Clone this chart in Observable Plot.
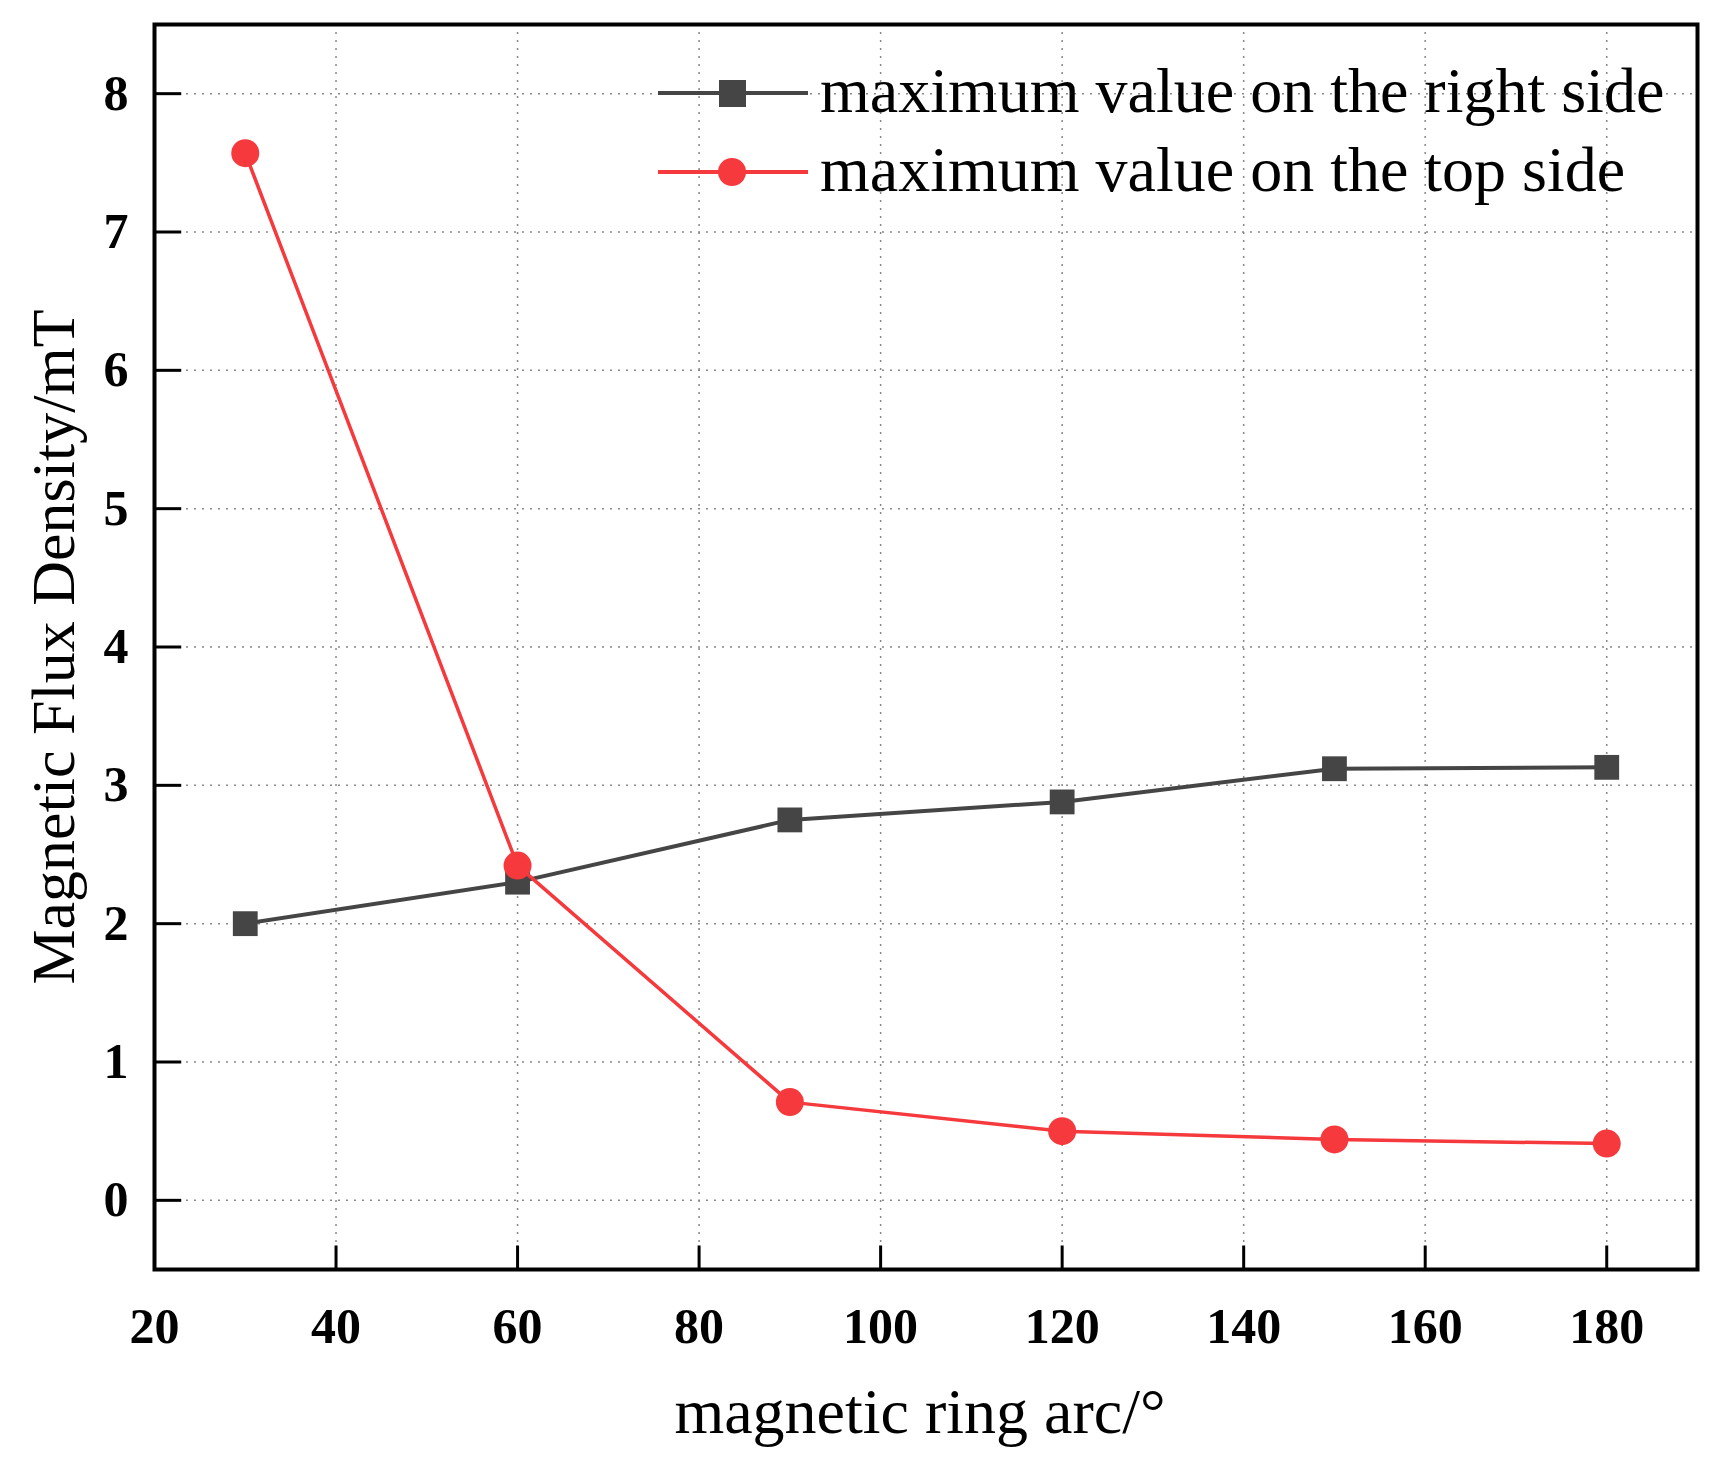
<!DOCTYPE html>
<html><head>
<script src="https://cdn.jsdelivr.net/npm/d3@7"></script>
<script src="https://cdn.jsdelivr.net/npm/@observablehq/plot@0.6"></script>
<style>body{margin:0;background:#fff;font-family:"Liberation Serif",serif}#wrap{position:relative;width:1711px;height:1470px}
.leg{position:absolute;font-size:64px;font-family:"Liberation Serif",serif;white-space:nowrap}</style>
</head><body><div id="wrap"></div>
<script>
const arcs=[30,60,90,120,150,180];
const rightSide=[2.0,2.3,2.75,2.88,3.12,3.13];
const topSide=[7.57,2.42,0.71,0.5,0.44,0.41];
const xTicks=[20,40,60,80,100,120,140,160,180];
const yTicks=[0,1,2,3,4,5,6,7,8];
const names=["maximum value on the right side","maximum value on the top side"];
const colors=["#454545","#f5393c"];
const R=arcs.map((x,i)=>({x,y:rightSide[i]})), T=arcs.map((x,i)=>({x,y:topSide[i]}));
const W=1711,H=1470;
const chart=Plot.plot({width:W,height:H,marginLeft:154,marginRight:14,marginTop:24,marginBottom:201,
 style:{fontFamily:"Liberation Serif",background:"#fff"},
 x:{domain:[20,190]},y:{domain:[-0.5,8.5]},
 marks:[
  Plot.gridX(xTicks.slice(1),{stroke:"#888",strokeOpacity:1,strokeDasharray:"2,6",strokeWidth:1.5}),
  Plot.gridY(yTicks,{stroke:"#888",strokeOpacity:1,strokeDasharray:"2,6",strokeWidth:1.5}),
  Plot.ruleX(xTicks,{y1:-0.5,y2:-0.33,stroke:"#000",strokeWidth:3}),
  Plot.ruleY(yTicks,{x1:20,x2:23,stroke:"#000",strokeWidth:3}),
  Plot.axisX(xTicks,{tickSize:0,tickPadding:38,fontSize:50,fontWeight:"bold",label:null,fill:"#000",tickFormat:d=>String(d)}),
  Plot.axisY(yTicks,{tickSize:0,tickPadding:26,fontSize:50,fontWeight:"bold",label:null,fill:"#000",tickFormat:d=>String(d)}),
  Plot.line(R,{x:"x",y:"y",stroke:colors[0],strokeWidth:4}),
  Plot.dot(R,{x:"x",y:"y",symbol:"square",r:14,fill:colors[0]}),
  Plot.line(T,{x:"x",y:"y",stroke:colors[1],strokeWidth:3.5}),
  Plot.dot(T,{x:"x",y:"y",r:14,fill:colors[1]}),
  Plot.frame({stroke:"#000",strokeWidth:4})
 ]});
const wrap=document.getElementById("wrap");
wrap.appendChild(chart);
const add=(html,css)=>{const d=document.createElement("div");d.className="leg";d.style.cssText=css;d.innerHTML=html;wrap.appendChild(d);};
names.forEach((n,i)=>{
 const y=[93,172][i];
 const sw=`<svg width="150" height="40" style="position:absolute;left:0;top:-20px"><line x1="0" y1="20" x2="150" y2="20" stroke="${colors[i]}" stroke-width="4"/>${i==0?`<rect x="61" y="7" width="27" height="27" fill="${colors[i]}"/>`:`<circle cx="74" cy="20" r="14" fill="${colors[i]}"/>`}</svg>`;
 add(sw,`left:658px;top:${y}px;`);
 add(n,`left:820px;top:${y-38}px;line-height:72px;`);
});
add("magnetic ring arc/°","left:0;width:1840px;text-align:center;top:1375px;font-size:64px;");
add("Magnetic Flux Density/mT","left:53px;top:647px;font-size:62px;transform:translate(-50%,-50%) rotate(-90deg);");
</script></body></html>
